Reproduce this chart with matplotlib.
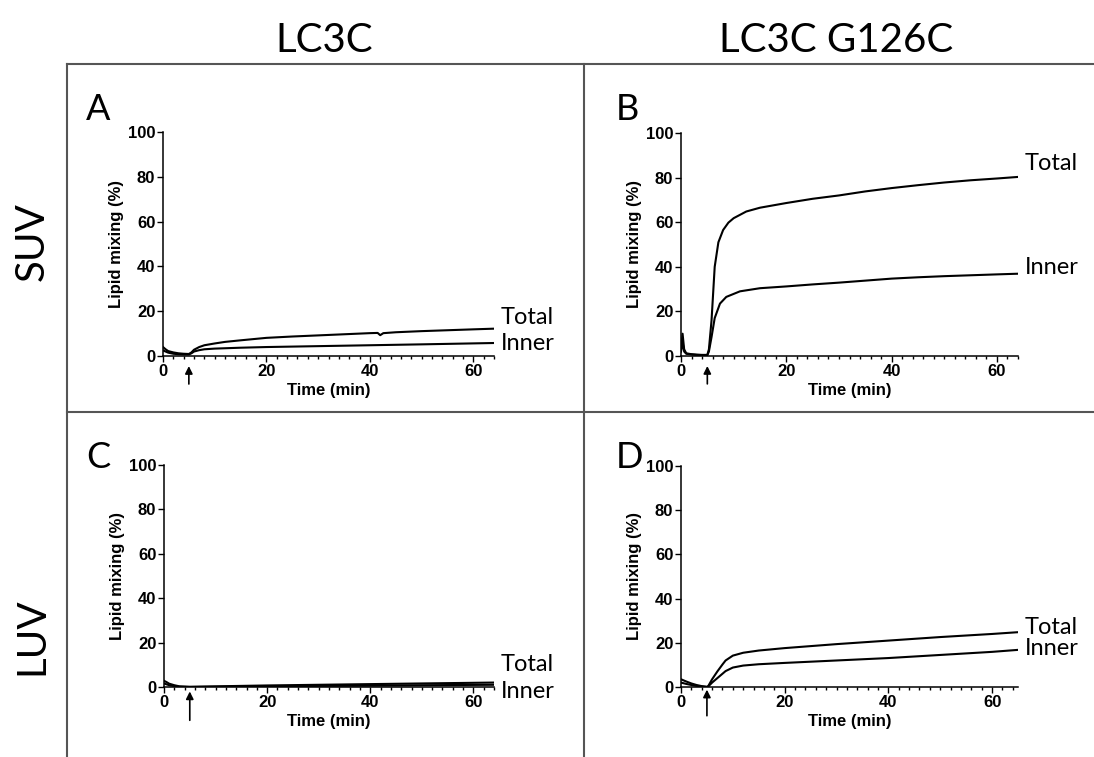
import matplotlib
matplotlib.use("Agg")
import matplotlib.pyplot as plt
from matplotlib.lines import Line2D
from matplotlib.ticker import MultipleLocator

plt.rcParams["font.family"] = ["Liberation Sans", "DejaVu Sans"]

# text around the grid
col_titles = ["LC3C", "LC3C G126C"]
row_titles = ["SUV", "LUV"]
panel_letters = ["A", "B", "C", "D"]
curve_names = ["Total", "Inner"]

# A: LC3C on SUV
a_total_t = [0, 0.5, 1, 2, 3, 4, 5, 5.5, 6, 7, 8, 10, 12, 15, 20, 25, 30, 35, 40, 41.5, 42, 42.6, 45, 50, 55, 60, 64]
a_total_y = [4.0, 3.0, 2.2, 1.6, 1.2, 1.0, 0.9, 1.6, 2.8, 4.0, 4.8, 5.6, 6.3, 7.0, 8.1, 8.7, 9.2, 9.7, 10.2, 10.3, 9.3, 10.2, 10.6, 11.1, 11.5, 11.9, 12.2]
a_inner_t = [0, 0.5, 1, 2, 3, 4, 5, 5.5, 6, 7, 8, 10, 15, 20, 30, 40, 50, 64]
a_inner_y = [2.5, 2.0, 1.5, 1.0, 0.8, 0.7, 0.7, 1.2, 2.0, 2.6, 3.0, 3.3, 3.7, 4.0, 4.4, 4.8, 5.2, 5.8]

# B: LC3C G126C on SUV
b_total_t = [0, 0.3, 0.6, 1, 2, 3, 4, 5, 5.3, 5.8, 6.4, 7.1, 8, 9, 10, 12.4, 15, 20, 25, 30, 35, 40, 45, 50, 55, 60, 64]
b_total_y = [3.0, 10.0, 3.0, 1.2, 0.8, 0.6, 0.5, 0.5, 3.0, 16.0, 40.0, 51.0, 56.5, 59.8, 61.8, 64.8, 66.5, 68.6, 70.5, 72.0, 73.8, 75.3, 76.6, 77.8, 78.8, 79.6, 80.3]
b_inner_t = [0, 0.3, 0.6, 1, 2, 3, 4, 5, 5.3, 5.8, 6.4, 7.4, 8.6, 11.2, 15, 20, 25, 30, 35, 40, 45, 50, 55, 60, 64]
b_inner_y = [2.0, 6.0, 2.0, 1.0, 0.7, 0.5, 0.4, 0.4, 2.0, 8.5, 17.0, 23.5, 26.5, 29.0, 30.4, 31.2, 32.1, 32.9, 33.8, 34.7, 35.3, 35.8, 36.2, 36.6, 36.9]

# C: LC3C on LUV
c_total_t = [0, 0.5, 1, 2, 3, 5, 10, 20, 30, 40, 50, 64]
c_total_y = [2.8, 2.2, 1.5, 0.8, 0.3, 0.1, 0.3, 0.7, 1.0, 1.3, 1.6, 2.0]
c_inner_t = [0, 0.5, 1, 2, 3, 5, 10, 20, 30, 40, 50, 64]
c_inner_y = [1.6, 1.2, 0.8, 0.4, 0.1, 0.0, 0.1, 0.3, 0.5, 0.6, 0.8, 1.0]

# D: LC3C G126C on LUV
d_total_t = [0, 1, 2, 3, 4, 5, 5.2, 6, 7, 8, 8.6, 10, 12, 15, 20, 30, 40, 50, 60, 65]
d_total_y = [3.5, 2.5, 1.6, 0.9, 0.4, 0.1, 0.2, 3.5, 7.0, 10.2, 12.0, 14.2, 15.5, 16.5, 17.6, 19.4, 21.0, 22.6, 24.0, 24.8]
d_inner_t = [0, 1, 2, 3, 4, 5, 5.2, 6, 7, 8, 8.6, 10, 12, 15, 20, 30, 40, 50, 60, 65]
d_inner_y = [2.0, 1.4, 0.9, 0.5, 0.2, 0.0, 0.1, 2.0, 4.0, 6.0, 7.2, 8.8, 9.7, 10.3, 10.9, 12.0, 13.1, 14.5, 15.9, 16.8]

W, H = 1094, 757
fig = plt.figure(figsize=(W / 100, H / 100), dpi=100)


def add_axes_px(left, top, right, bottom):
    return fig.add_axes([left / W, 1 - bottom / H, (right - left) / W, (bottom - top) / H])


# boxes around the four panels
grid_color = "#555555"
for x0, y0, x1, y1 in [(67, 64, W, 64), (67, 64, 67, H), (584, 64, 584, H), (67, 412, W, 412)]:
    fig.add_artist(Line2D([x0 / W, x1 / W], [1 - y0 / H, 1 - y1 / H], color=grid_color, lw=1.5,
                          transform=fig.transFigure))

fig.text(324 / W, 1 - 40 / H, col_titles[0], family="Lato", fontsize=29, ha="center", va="center")
fig.text(836 / W, 1 - 40 / H, col_titles[1], family="Lato", fontsize=29, ha="center", va="center")
fig.text(32 / W, 1 - 242 / H, row_titles[0], family="Lato", fontsize=29, ha="center", va="center", rotation=90)
fig.text(32 / W, 1 - 636 / H, row_titles[1], family="Lato", fontsize=29, ha="center", va="center", rotation=90)

panels = [
    dict(box=(163, 132, 494, 356), xmax=64, letter=(86, 120),
         total=(a_total_t, a_total_y), inner=(a_inner_t, a_inner_y),
         label_y=(17, 5.8), arrow=(-0.045, -0.125)),
    dict(box=(681, 133, 1018, 356), xmax=64, letter=(616, 120),
         total=(b_total_t, b_total_y), inner=(b_inner_t, b_inner_y),
         label_y=(86.5, 39.5), arrow=(-0.045, -0.125)),
    dict(box=(164, 465, 494, 687), xmax=64, letter=(86, 468),
         total=(c_total_t, c_total_y), inner=(c_inner_t, c_inner_y),
         label_y=(10, -2), arrow=(-0.02, -0.15)),
    dict(box=(681, 466, 1018, 687), xmax=65, letter=(616, 468),
         total=(d_total_t, d_total_y), inner=(d_inner_t, d_inner_y),
         label_y=(27, 17.6), arrow=(-0.012, -0.13)),
]

for letter, p in zip(panel_letters, panels):
    ax = add_axes_px(*p["box"])
    ax.plot(*p["total"], color="black", lw=1.5)
    ax.plot(*p["inner"], color="black", lw=1.5)

    ax.set_xlim(0, p["xmax"])
    ax.set_ylim(0, 100)
    ax.spines[["top", "right"]].set_visible(False)
    ax.spines[["left", "bottom"]].set_linewidth(1.1)
    ax.xaxis.set_major_locator(MultipleLocator(20))
    ax.xaxis.set_minor_locator(MultipleLocator(2))
    ax.yaxis.set_major_locator(MultipleLocator(20))
    ax.tick_params(which="major", length=4, width=1, pad=1.5, labelsize=12)
    ax.tick_params(which="minor", length=2.5, width=1)
    for lab in ax.get_xticklabels() + ax.get_yticklabels():
        lab.set_fontweight("bold")
    ax.set_xlabel("Time (min)", fontsize=12, fontweight="bold", labelpad=3)
    ax.set_ylabel("Lipid mixing (%)", fontsize=12, fontweight="bold", labelpad=3)

    # protein injection marker
    tip, tail = p["arrow"]
    ax.annotate("", xy=(5, tip), xytext=(5, tail), xycoords=ax.get_xaxis_transform(),
                arrowprops=dict(arrowstyle="-|>", color="black", lw=1.2, mutation_scale=11,
                                shrinkA=0, shrinkB=0))

    for name, yv in zip(curve_names, p["label_y"]):
        ax.text(p["xmax"] + 1.3, yv, name, family="Lato", fontsize=17, ha="left", va="center",
                clip_on=False)

    lx, ly = p["letter"]
    fig.text(lx / W, 1 - ly / H, letter, family="Lato", fontsize=26, ha="left", va="baseline")

fig.savefig("out.png", dpi=100)
